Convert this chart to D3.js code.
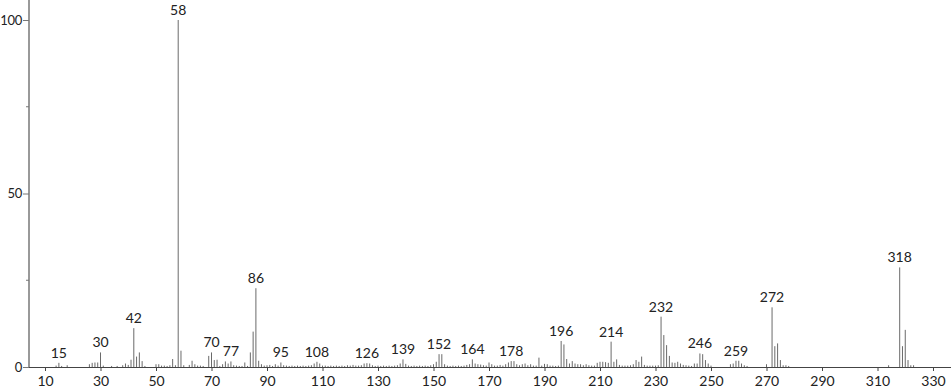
<!DOCTYPE html>
<html>
<head>
<meta charset="utf-8">
<script src="https://cdnjs.cloudflare.com/ajax/libs/d3/7.8.5/d3.min.js"></script>
<style>
  body { margin: 0; background: #fff; }
  svg text { font-family: Lato, "Open Sans", sans-serif; font-weight: 400; }
</style>
</head>
<body>
<div id="chart"></div>
<script>
// m/z values and relative intensities (%)
const masses = [14,15,16,18,26,27,28,29,30,31,34,36,38,39,40,41,42,43,44,45,46,50,51,52,53,54,55,56,57,58,59,60,62,63,64,65,66,67,69,70,71,72,73,74,75,76,77,78,79,80,81,82,83,84,85,86,87,88,89,90,91,92,93,94,95,96,97,98,99,100,101,102,103,104,105,106,107,108,109,110,111,112,113,114,115,116,117,118,119,120,121,122,123,124,125,126,127,128,129,130,131,132,133,134,135,136,137,138,139,140,141,142,143,144,145,146,147,148,149,150,151,152,153,154,155,156,157,158,159,160,161,162,163,164,165,166,167,168,169,170,171,172,173,174,175,176,177,178,179,180,181,182,183,184,185,186,187,188,189,190,191,192,193,194,195,196,197,198,199,200,201,202,203,204,205,206,207,208,209,210,211,212,213,214,215,216,217,218,219,220,221,222,223,224,225,226,227,228,229,230,231,232,233,234,235,236,237,238,239,240,241,242,243,244,245,246,247,248,249,250,257,258,259,260,261,262,263,270,272,273,274,275,276,277,278,314,318,319,320,321,322,323];
const intensities = [0.4,1.2,0.3,0.5,0.8,1.2,1.3,1.3,4.2,0.4,0.3,0.3,0.5,1.0,0.6,2.1,11.2,3.0,4.2,1.7,0.3,0.8,0.8,0.4,0.4,0.3,0.5,2.3,0.5,100,4.7,0.5,0.6,1.8,0.8,0.4,0.4,0.3,3.2,4.2,2.0,2.1,0.3,0.8,1.6,1.0,1.6,0.5,0.4,0.3,0.3,1.3,0.3,4.2,10.2,22.7,1.8,0.8,0.4,0.5,0.6,0.3,0.8,0.4,1.3,0.5,0.4,0.3,0.4,0.3,0.4,0.3,0.4,0.3,0.4,0.5,1.0,1.5,1.0,0.4,0.4,0.3,0.4,0.3,0.4,0.3,0.4,0.3,0.5,0.4,0.6,0.4,0.4,0.5,1.0,1.1,1.0,0.5,0.3,0.4,0.3,0.4,0.3,0.4,0.3,0.4,0.5,1.0,2.2,0.9,0.4,0.3,0.4,0.3,0.4,0.3,0.4,0.3,0.5,0.8,1.5,3.7,3.7,0.8,0.4,0.3,0.4,0.3,0.4,0.3,0.4,0.6,0.8,2.2,1.0,0.8,0.7,0.5,0.4,1.3,0.8,0.4,0.4,0.6,0.4,0.8,1.3,1.7,1.7,0.8,0.5,0.8,1.0,0.5,0.8,0.4,0.4,2.7,0.4,0.9,0.8,0.4,0.4,0.3,0.4,7.5,6.5,2.3,1.0,1.7,1.0,0.8,0.8,0.5,0.8,0.5,0.4,0.4,1.2,1.5,1.5,1.4,1.2,7.3,1.5,2.2,0.6,0.4,0.4,0.4,0.5,0.8,2.0,1.5,3.0,0.6,0.4,0.4,0.4,0.4,0.5,14.5,9.2,6.3,3.2,1.3,1.2,1.5,1.0,0.6,0.5,0.4,0.3,1.0,1.0,3.9,3.7,2.0,1.0,0.4,0.8,1.0,1.8,1.8,1.0,0.5,0.3,0.8,17.2,6.0,6.8,2.0,0.5,0.5,0.3,0.5,28.7,6.0,10.7,2.0,0.5,0.5];
const labeledPeaks = [15,30,42,58,70,77,86,95,108,126,139,152,164,178,196,214,232,246,259,272,318];
const xTicks = [10,30,50,70,90,110,130,150,170,190,210,230,250,270,290,310,330];
const yTicks = [0,50,100];
const yMinorTicks = [25,75];

const width = 951, height = 389;
const svg = d3.select('#chart').append('svg')
    .attr('width', width)
    .attr('height', height);

const x = d3.scaleLinear().domain([10, 330]).range([45, 933]);
const y = d3.scaleLinear().domain([0, 100]).range([367, 20]);

const peaks = masses.map(function(m, i) { return {mz: m, value: intensities[i]}; });

// peaks
svg.append('g')
    .selectAll('line')
    .data(peaks)
    .enter()
    .append('line')
    .attr('x1', function(d) { return x(d.mz); })
    .attr('x2', function(d) { return x(d.mz); })
    .attr('y1', y(0))
    .attr('y2', function(d) { return y(d.value); })
    .attr('stroke', '#6a6a6a')
    .attr('stroke-width', 1);

// x axis
const xAxis = svg.append('g')
    .attr('transform', 'translate(0,' + y(0) + ')')
    .call(d3.axisBottom(x).tickValues(xTicks).tickSize(4).tickPadding(5).tickSizeOuter(0));
xAxis.select('.domain').attr('d', 'M29,0.5H951').attr('stroke', '#444');
xAxis.selectAll('.tick line').attr('stroke', '#444');
xAxis.selectAll('text').attr('font-size', 14).attr('fill', '#222').style('font-family', 'Lato, sans-serif');

// y axis
const yAxis = svg.append('g')
    .attr('transform', 'translate(29,0)')
    .call(d3.axisLeft(y).tickValues(yTicks).tickSize(6).tickPadding(1).tickSizeOuter(0));
yAxis.select('.domain').attr('d', 'M0,0V' + y(0)).attr('stroke', '#999').attr('stroke-width', 2);
yAxis.selectAll('.tick line').attr('stroke', '#777');
yAxis.selectAll('text').attr('font-size', 13).attr('fill', '#222').style('font-family', 'Lato, sans-serif')
    .attr('letter-spacing', -0.3);

yAxis.selectAll('.minor')
    .data(yMinorTicks)
    .enter()
    .append('line')
    .attr('x1', -3)
    .attr('x2', 0)
    .attr('y1', function(d) { return y(d); })
    .attr('y2', function(d) { return y(d); })
    .attr('stroke', '#777');

// peak labels
const valueOf = {};
peaks.forEach(function(d) { valueOf[d.mz] = d.value; });
svg.append('g')
    .selectAll('text')
    .data(labeledPeaks)
    .enter()
    .append('text')
    .attr('x', function(d) { return x(d); })
    .attr('y', function(d) { return y(valueOf[d]) - 5; })
    .attr('text-anchor', 'middle')
    .attr('font-size', 14)
    .attr('fill', '#222')
    .text(function(d) { return d; });
</script>
</body>
</html>
